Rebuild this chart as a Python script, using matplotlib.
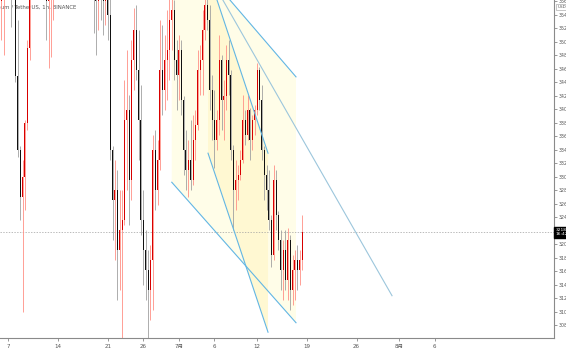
import matplotlib
matplotlib.use('Agg')
from matplotlib import pyplot as plt
import matplotlib.dates as mdates
import pandas as pd
import numpy as np

plt.rcParams['font.family'] = ['DejaVu Sans', 'Noto Sans CJK SC']

# 8h candles (values above ~3562 / below ~3061 are off screen)
candle_start = '2024-06-05 16:00'
opens = [3590, 3560, 3580, 3600, 3610, 3600, 3590, 3595, 3450, 3340,
         3270, 3300, 3380, 3490, 3570, 3620, 3640, 3650, 3620, 3600,
         3590, 3560, 3580, 3590, 3600, 3620, 3640, 3670, 3690, 3680,
         3660, 3650, 3630, 3640, 3660, 3650, 3620, 3610, 3600, 3590,
         3585, 3570, 3560, 3580, 3575, 3560, 3580, 3540, 3340, 3266,
         3281, 3192, 3221, 3236, 3384, 3399, 3295, 3473, 3517, 3458,
         3384, 3236, 3192, 3162, 3133, 3177, 3340, 3281, 3325, 3458,
         3429, 3473, 3488, 3532, 3547, 3473, 3451, 3488, 3414, 3340,
         3310, 3325, 3295, 3355, 3377, 3458, 3473, 3517, 3554, 3532,
         3429, 3384, 3355, 3384, 3473, 3414, 3420, 3473, 3451, 3340,
         3281, 3295, 3303, 3325, 3384, 3362, 3399, 3355, 3384, 3399,
         3458, 3414, 3340, 3303, 3281, 3236, 3184, 3295, 3244, 3207,
         3162, 3192, 3147, 3207, 3133, 3162, 3177, 3162, 3177]
highs = [3620, 3610, 3625, 3640, 3650, 3620, 3630, 3615, 3532, 3345,
         3325, 3384, 3503, 3585, 3640, 3660, 3680, 3670, 3650, 3630,
         3610, 3600, 3610, 3620, 3640, 3660, 3690, 3710, 3720, 3700,
         3690, 3670, 3660, 3680, 3690, 3670, 3650, 3640, 3630, 3620,
         3610, 3600, 3600, 3610, 3620, 3600, 3610, 3570, 3345, 3325,
         3310, 3281, 3281, 3443, 3488, 3421, 3503, 3550, 3554, 3517,
         3436, 3281, 3221, 3192, 3199, 3362, 3369, 3355, 3532, 3525,
         3510, 3547, 3577, 3580, 3562, 3503, 3510, 3503, 3420, 3369,
         3355, 3384, 3392, 3399, 3488, 3495, 3547, 3577, 3585, 3554,
         3451, 3429, 3399, 3510, 3480, 3443, 3495, 3503, 3458, 3347,
         3325, 3318, 3340, 3421, 3399, 3421, 3402, 3392, 3406, 3468,
         3462, 3436, 3345, 3318, 3310, 3244, 3318, 3310, 3250, 3221,
         3207, 3221, 3224, 3214, 3184, 3192, 3199, 3192, 3244]
lows = [3517, 3503, 3480, 3570, 3575, 3522, 3570, 3440, 3329, 3236,
        3100, 3251, 3369, 3473, 3566, 3590, 3610, 3600, 3580, 3570,
        3503, 3461, 3477, 3532, 3575, 3600, 3620, 3650, 3660, 3640,
        3630, 3610, 3600, 3620, 3630, 3610, 3590, 3585, 3575, 3570,
        3513, 3480, 3517, 3532, 3510, 3525, 3503, 3325, 3206, 3177,
        3118, 3132, 3050, 3229, 3281, 3229, 3266, 3429, 3443, 3325,
        3214, 3140, 3118, 3050, 3088, 3103, 3251, 3258, 3310, 3392,
        3399, 3414, 3443, 3488, 3443, 3399, 3414, 3392, 3303, 3281,
        3270, 3281, 3288, 3325, 3369, 3421, 3421, 3503, 3517, 3399,
        3355, 3313, 3340, 3362, 3369, 3355, 3399, 3421, 3325, 3221,
        3251, 3266, 3295, 3320, 3347, 3355, 3325, 3340, 3362, 3392,
        3399, 3325, 3266, 3251, 3221, 3166, 3177, 3221, 3192, 3133,
        3118, 3133, 3118, 3103, 3110, 3118, 3133, 3140, 3162]
closes = [3560, 3580, 3600, 3610, 3600, 3590, 3595, 3450, 3340, 3270,
          3300, 3380, 3490, 3570, 3620, 3640, 3650, 3620, 3600, 3590,
          3560, 3580, 3590, 3600, 3620, 3640, 3670, 3690, 3680, 3660,
          3650, 3630, 3640, 3660, 3650, 3620, 3610, 3600, 3590, 3585,
          3570, 3560, 3580, 3575, 3560, 3580, 3540, 3340, 3266, 3281,
          3192, 3221, 3236, 3384, 3399, 3295, 3473, 3517, 3458, 3384,
          3236, 3192, 3162, 3133, 3177, 3340, 3281, 3325, 3458, 3429,
          3473, 3488, 3532, 3547, 3473, 3451, 3488, 3414, 3340, 3310,
          3325, 3295, 3355, 3377, 3458, 3473, 3517, 3554, 3532, 3429,
          3384, 3355, 3384, 3473, 3414, 3420, 3473, 3451, 3340, 3281,
          3295, 3303, 3325, 3384, 3362, 3399, 3355, 3384, 3399, 3458,
          3414, 3340, 3303, 3281, 3236, 3184, 3295, 3244, 3207, 3162,
          3192, 3147, 3207, 3133, 3162, 3177, 3162, 3177, 3218]

price_ticks = list(range(3080, 3561, 20))
date_ticks = ['2024-06-07', '2024-06-14', '2024-06-21', '2024-06-26', '2024-07-01',
              '2024-07-06', '2024-07-12', '2024-07-19', '2024-07-26', '2024-08-01',
              '2024-08-06']
date_labels = ['7', '14', '21', '26', '7月', '6', '12', '19', '26', '8月', '6']
last_price = 3218

# drawings (date, price)
channel_top = [('2024-06-30 00:00', 3662), ('2024-07-17 11:30', 3448)]
channel_bottom = [('2024-06-30 00:00', 3292), ('2024-07-17 11:30', 3084)]
mid_line = [('2024-07-03 23:15', 3621), ('2024-07-30 23:45', 3124)]
steep_upper = [('2024-07-04 16:20', 3615), ('2024-07-13 13:00', 3335)]
steep_lower = [('2024-07-05 02:25', 3335), ('2024-07-13 13:00', 3070)]
band_left_top = ('2024-07-05 02:25', 3602)


def d(s):
    return mdates.date2num(pd.Timestamp(s))


times = pd.date_range(candle_start, periods=len(closes), freq='8h')
x = mdates.date2num(times)
o = np.array(opens)
c = np.array(closes)
up = c >= o

fig = plt.figure(figsize=(5.66, 3.5), dpi=100)
ax = fig.add_axes([0, 12 / 350, 554 / 566, 338 / 350])

# shaded areas
poly_a = [(d(channel_top[0][0]), channel_top[0][1]), (d(channel_top[1][0]), channel_top[1][1]),
          (d(channel_bottom[1][0]), channel_bottom[1][1]), (d(channel_bottom[0][0]), channel_bottom[0][1])]
ax.fill([p[0] for p in poly_a], [p[1] for p in poly_a], color='#fffde8', lw=0, zorder=0)
poly_b = [(d(band_left_top[0]), band_left_top[1]), (d(steep_upper[1][0]), steep_upper[1][1]),
          (d(steep_lower[1][0]), steep_lower[1][1]), (d(steep_lower[0][0]), steep_lower[0][1])]
ax.fill([p[0] for p in poly_b], [p[1] for p in poly_b], color='#fff8d2', lw=0, zorder=0.5)

ax.axhline(last_price, color='#a0a0a0', lw=0.5, ls=(0, (2, 2)), zorder=1)

# candles
ax.vlines(x[up], np.array(lows)[up], np.array(highs)[up], color='#ff8f85', lw=0.6, zorder=2)
ax.vlines(x[~up], np.array(lows)[~up], np.array(highs)[~up], color='#a0a0a0', lw=0.6, zorder=2)
ax.bar(x[up], (c - o)[up], bottom=o[up], width=0.14, color='#d80000', lw=0, zorder=3)
ax.bar(x[~up], (c - o)[~up], bottom=o[~up], width=0.14, color='#111111', lw=0, zorder=3)

for line, col in [(channel_top, '#62b6e4'), (channel_bottom, '#62b6e4'),
                  (mid_line, '#9cc6dc'), (steep_upper, '#62b6e4'), (steep_lower, '#62b6e4')]:
    ax.plot([d(line[0][0]), d(line[1][0])], [line[0][1], line[1][1]], color=col, lw=0.8, zorder=4)

ax.set_xlim(d('2024-06-05 19:58'), d('2024-08-22 18:43'))
ax.set_ylim(3061.4, 3561.8)

ax.yaxis.tick_right()
ax.set_yticks(price_ticks)
ax.set_yticklabels([str(p) for p in price_ticks])
ax.set_xticks([d(t) for t in date_ticks])
ax.set_xticklabels(date_labels)
ax.tick_params(axis='both', labelsize=4, length=2.5, width=0.6, color='#888888',
               labelcolor='#555555', pad=1.5)
ax.tick_params(axis='y', labelsize=3.4, pad=1.0)
for s in ['top', 'left']:
    ax.spines[s].set_visible(False)
for s in ['right', 'bottom']:
    ax.spines[s].set_color('#8a8a8a')
    ax.spines[s].set_linewidth(0.8)

ax.text(-17 / 554, 1 - 7 / 338, 'Ethereum / TetherUS, 1h, BINANCE', transform=ax.transAxes,
        fontsize=3.9, color='#555555', va='center', ha='left', zorder=1, clip_on=False)

ax.text(1.003, last_price, f'{last_price}\n16:42', transform=ax.get_yaxis_transform(),
        fontsize=3.2, color='white', va='center', ha='left', linespacing=1.0,
        bbox=dict(boxstyle='square,pad=0.35', fc='black', ec='black'), zorder=10, clip_on=False)
ax.text(1.006, 3551, 'USDT', transform=ax.get_yaxis_transform(), fontsize=3, color='#555555',
        va='center', ha='left', clip_on=False,
        bbox=dict(boxstyle='square,pad=0.2', fc='white', ec='#999999', lw=0.4))

fig.savefig('out.png', dpi=100)
